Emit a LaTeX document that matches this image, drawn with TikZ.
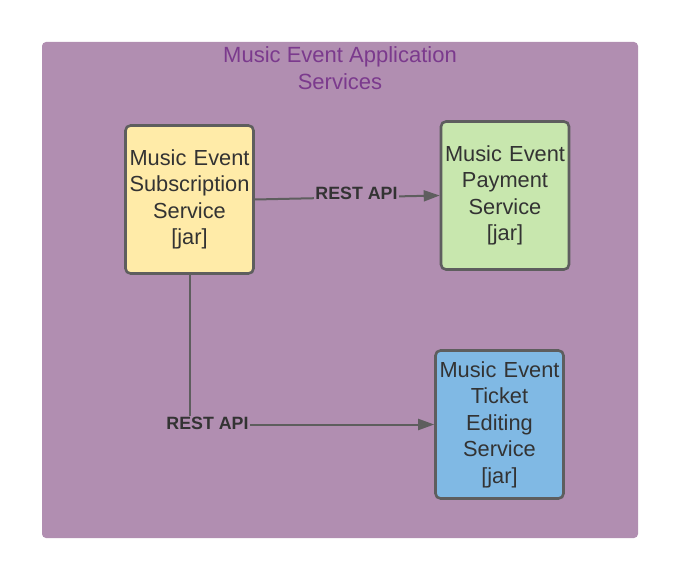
\documentclass[tikz,border=0pt]{standalone}
\usepackage{fontspec}
\setmainfont{Liberation Sans}
\usetikzlibrary{arrows.meta}
\definecolor{appbg}{HTML}{B18EB1}
\definecolor{apptitle}{HTML}{7B3A8D}
\definecolor{subfill}{HTML}{FFEBA8}
\definecolor{payfill}{HTML}{C8E7AE}
\definecolor{tickfill}{HTML}{80B9E4}
\definecolor{edgegray}{HTML}{5E5E5E}
\definecolor{txtgray}{HTML}{333333}
\tikzset{
	service/.style={draw=edgegray, line width=2.6pt, rounded corners=5pt,
		minimum width=128pt, minimum height=148pt, text width=128pt,
		align=center, inner sep=0pt, text=txtgray,
		font=\fontsize{21.8}{26.5}\selectfont},
	restlink/.style={draw=edgegray, line width=2pt,
		-{Triangle[length=16pt,width=11pt]}},
	restlabel/.style={fill=appbg, inner sep=1pt, text=txtgray,
		font=\fontsize{17.8}{20}\selectfont\bfseries}
}

\begin{document}
\begin{tikzpicture}[x=1pt,y=-1pt]
	\useasboundingbox (0,0) rectangle (680,580);
	%application container
	\fill[appbg, rounded corners=4pt] (42,42) rectangle (638,538);
	\node[text=apptitle, align=center, font=\fontsize{22}{27}\selectfont]
		(title) at (340,68) {Music Event Application\\Services};
	%services
	\node[service, fill=subfill] (sub) at (189.5,199.5)
		{Music Event\\Subscription\\Service\\{[jar]}};
	\node[service, fill=payfill] (pay) at (505,195.5)
		{Music Event\\Payment\\Service\\{[jar]}};
	\node[service, fill=tickfill] (tick) at (499.5,424.5)
		{Music Event\\Ticket\\Editing\\Service\\{[jar]}};
	%links
	\draw[restlink] (sub.east) -- node[restlabel, pos=0.55, yshift=4pt] (rest1) {REST API} (pay.west);
	\draw[restlink] (sub.south) |- node[restlabel, pos=0.5, xshift=18pt, yshift=1pt] (rest2) {REST API} (tick.west);
\end{tikzpicture}
\end{document}
